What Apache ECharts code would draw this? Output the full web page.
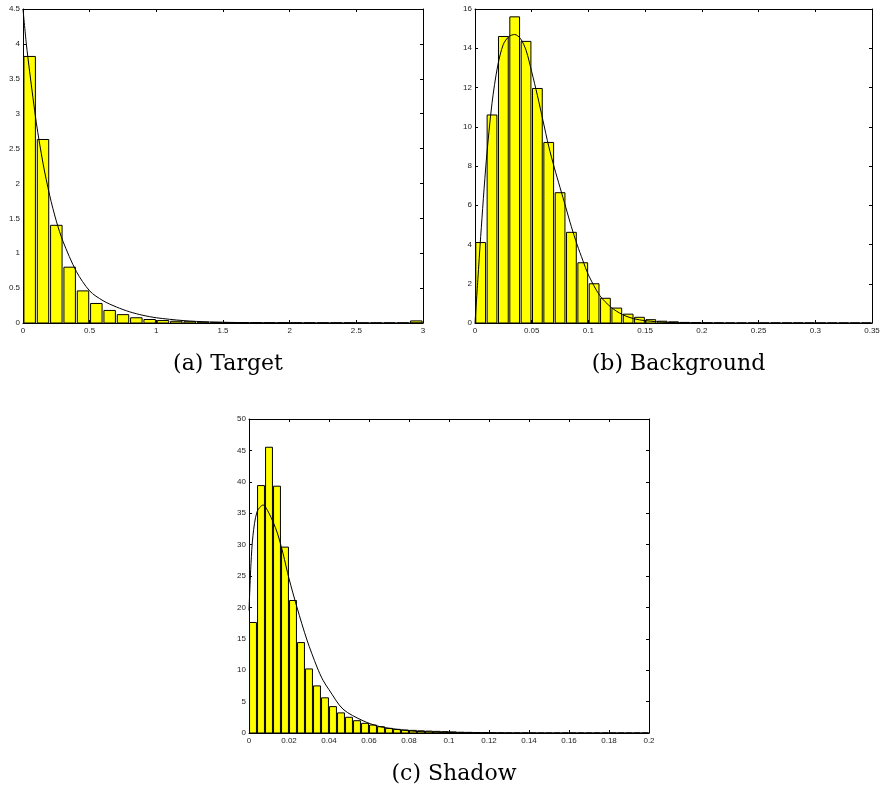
<!DOCTYPE html>
<html>
<head>
<meta charset="utf-8">
<script src="https://cdn.jsdelivr.net/npm/echarts@6/dist/echarts.min.js"></script>
<style>
  html, body { margin: 0; padding: 0; background: #fff; }
  #chart { width: 883px; height: 787px; }
</style>
</head>
<body>
<div id="chart"></div>
<script>
// (a) Target: bins of 0.1 over [0, 3]
const targetBinWidth = 0.1
const targetHeights = [3.82, 2.63, 1.40, 0.80, 0.46, 0.28, 0.18, 0.12, 0.075, 0.05,
  0.035, 0.025, 0.018, 0.012, 0.009, 0.007, 0.006, 0.005, 0.004, 0.004,
  0.003, 0.003, 0.002, 0.002, 0.002, 0.001, 0.001, 0.001, 0.001, 0.03]
const targetCurveX = [0, 0.025, 0.05, 0.1, 0.15, 0.2, 0.25, 0.3, 0.4, 0.5, 0.6, 0.7, 0.8, 0.9, 1.0, 1.2, 1.4, 1.7, 2.0, 3.0]
const targetCurveY = [4.5, 4.0, 3.6, 2.87, 2.29, 1.83, 1.46, 1.17, 0.74, 0.46, 0.32, 0.23, 0.16, 0.11, 0.075, 0.035, 0.015, 0.005, 0.002, 0]

// (b) Background: bins of 0.01 over [0, 0.35]
const bgBinWidth = 0.01
const bgHeights = [4.1, 10.6, 14.6, 15.6, 14.35, 11.95, 9.2, 6.64, 4.62, 3.07,
  2.0, 1.26, 0.76, 0.45, 0.29, 0.17, 0.09, 0.06, 0.03, 0.02,
  0.01, 0.005, 0, 0, 0, 0, 0.003, 0.003, 0.003, 0, 0, 0, 0, 0, 0]
const bgCurveX = [0, 0.0025, 0.005, 0.01, 0.015, 0.02, 0.025, 0.03, 0.035, 0.04, 0.045, 0.05, 0.055,
  0.06, 0.065, 0.07, 0.075, 0.08, 0.085, 0.09, 0.095, 0.1, 0.11, 0.12, 0.13, 0.14, 0.15, 0.17, 0.2, 0.25, 0.35]
const bgCurveY = [0, 2.2, 4.4, 8.3, 11.2, 13.1, 14.2, 14.6, 14.7, 14.5, 13.9, 12.8, 11.6,
  10.3, 9.0, 7.9, 6.9, 5.9, 4.9, 4.0, 3.2, 2.45, 1.4, 0.8, 0.43, 0.22, 0.12, 0.03, 0.005, 0, 0]

// (c) Shadow: bins of 0.004 over [0, 0.2]
const shadowBinWidth = 0.004
const shadowHeights = [17.6, 39.4, 45.5, 39.3, 29.6, 21.1, 14.4, 10.2, 7.5, 5.6,
  4.2, 3.2, 2.5, 1.96, 1.54, 1.27, 1.0, 0.74, 0.58, 0.48,
  0.42, 0.35, 0.3, 0.26, 0.22, 0.18, 0.12, 0.1, 0.08, 0.06,
  0.04, 0.03, 0.02, 0.01, 0.01, 0.005, 0, 0, 0, 0,
  0, 0, 0, 0, 0, 0, 0, 0, 0, 0]
const shadowCurveX = [0, 0.001, 0.002, 0.004, 0.007, 0.01, 0.014, 0.017, 0.02, 0.024, 0.029, 0.034,
  0.037, 0.04, 0.047, 0.057, 0.065, 0.074, 0.082, 0.09, 0.1, 0.12, 0.15, 0.2]
const shadowCurveY = [19.5, 27, 31.5, 35.2, 36.3, 35.0, 32, 28.6, 24.6, 20, 14.8, 10.5,
  8.4, 6.9, 3.8, 1.95, 1.05, 0.58, 0.3, 0.17, 0.08, 0.02, 0, 0]

const captions = ['(a) Target', '(b) Background', '(c) Shadow']

const panels = [
  { w: targetBinWidth, h: targetHeights, cx: targetCurveX, cy: targetCurveY,
    grid: { left: 23, top: 9, width: 400, height: 314 }, xMax: 3, xInt: 0.5, yMax: 4.5, yInt: 0.5 },
  { w: bgBinWidth, h: bgHeights, cx: bgCurveX, cy: bgCurveY,
    grid: { left: 475, top: 9, width: 397, height: 314 }, xMax: 0.35, xInt: 0.05, yMax: 16, yInt: 2 },
  { w: shadowBinWidth, h: shadowHeights, cx: shadowCurveX, cy: shadowCurveY,
    grid: { left: 249, top: 419, width: 400, height: 314 }, xMax: 0.2, xInt: 0.02, yMax: 50, yInt: 5 },
]

const labelStyle = { fontSize: 8, color: '#222', fontFamily: 'Liberation Sans, Arial, sans-serif' }

const grid = []
const xAxis = []
const yAxis = []
const series = []
const title = []

panels.forEach((p, i) => {
  grid.push(p.grid)
  const tick = { show: true, inside: true, length: 3, lineStyle: { color: '#000' } }
  const line = { show: true, onZero: false, lineStyle: { color: '#000', width: 1 } }
  xAxis.push({ type: 'value', gridIndex: i, min: 0, max: p.xMax, interval: p.xInt, position: 'bottom',
    axisLine: line, axisTick: tick, splitLine: { show: false },
    axisLabel: { ...labelStyle, margin: 4 } })
  xAxis.push({ type: 'value', gridIndex: i, min: 0, max: p.xMax, interval: p.xInt, position: 'top',
    axisLine: line, axisTick: tick, splitLine: { show: false }, axisLabel: { show: false } })
  yAxis.push({ type: 'value', gridIndex: i, min: 0, max: p.yMax, interval: p.yInt, position: 'left',
    axisLine: line, axisTick: tick, splitLine: { show: false },
    axisLabel: { ...labelStyle, margin: 3 } })
  yAxis.push({ type: 'value', gridIndex: i, min: 0, max: p.yMax, interval: p.yInt, position: 'right',
    axisLine: line, axisTick: tick, splitLine: { show: false }, axisLabel: { show: false } })

  const half = p.w * 0.43
  series.push({
    type: 'custom',
    xAxisIndex: i * 2,
    yAxisIndex: i * 2,
    clip: true,
    encode: { x: 0, y: 1 },
    data: p.h.map((v, k) => [p.w * k + p.w / 2, v]),
    renderItem: (params, api) => {
      const c = api.value(0)
      const top = api.coord([c - half, api.value(1)])
      const bot = api.coord([c + half, 0])
      return {
        type: 'rect',
        shape: { x: top[0], y: top[1], width: bot[0] - top[0], height: bot[1] - top[1] },
        style: { fill: '#ffff00', stroke: '#000', lineWidth: 1 },
      }
    },
  })
  series.push({
    type: 'line',
    xAxisIndex: i * 2,
    yAxisIndex: i * 2,
    data: p.cx.map((x, k) => [x, p.cy[k]]),
    smooth: 0.3,
    showSymbol: false,
    clip: true,
    lineStyle: { color: '#000', width: 1 },
    z: 5,
  })

  title.push({
    text: captions[i],
    left: p.grid.left + p.grid.width / 2,
    top: p.grid.top + p.grid.height + 25,
    textAlign: 'center',
    textStyle: { fontFamily: 'DejaVu Serif, serif', fontWeight: 'normal', fontSize: 22, color: '#000' },
  })
})

const chart = echarts.init(document.getElementById('chart'))
chart.setOption({ animation: false, title, grid, xAxis, yAxis, series })
</script>
</body>
</html>
